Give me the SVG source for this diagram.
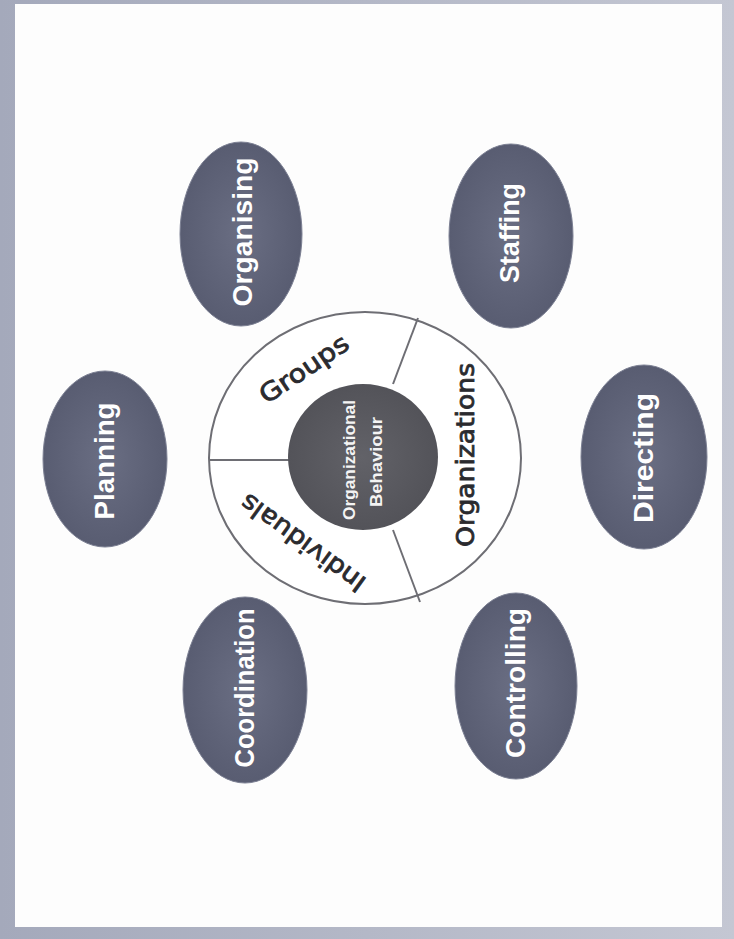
<svg xmlns="http://www.w3.org/2000/svg" width="734" height="939" viewBox="0 0 734 939">
<defs>
<radialGradient id="eg" cx="50%" cy="50%" r="60%">
<stop offset="0" stop-color="#6a6e83"/>
<stop offset="1" stop-color="#55596e"/>
</radialGradient>
<radialGradient id="cg" cx="50%" cy="50%" r="60%">
<stop offset="0" stop-color="#626268"/>
<stop offset="1" stop-color="#505056"/>
</radialGradient>
<linearGradient id="edge" x1="0" y1="0" x2="1" y2="0">
<stop offset="0" stop-color="#a4a9bb"/>
<stop offset="1" stop-color="#c4c7d3"/>
</linearGradient>
</defs>
<style>
.oval{fill:url(#eg);stroke:#7c8093;stroke-width:1}
.lbl{font-family:"Liberation Sans",Arial,sans-serif;font-weight:bold;font-size:28px;fill:#ffffff;text-anchor:middle;dominant-baseline:central}
.ring{font-family:"DejaVu Sans","Liberation Sans",sans-serif;font-size:25px;fill:#2a2a2e;stroke:#2a2a2e;stroke-width:0.8;text-anchor:middle;dominant-baseline:central}
.hubt{font-family:"Liberation Sans",Arial,sans-serif;font-weight:bold;font-size:16px;fill:#f4f4f4;text-anchor:middle;dominant-baseline:central}
.div{stroke:#6e6e74;stroke-width:2;fill:none}
</style>
<rect x="0" y="0" width="734" height="939" fill="url(#edge)"/>
<rect x="15" y="4" width="707" height="923" fill="#fdfdfd"/>

<g id="hub">
<ellipse cx="365" cy="458" rx="156" ry="146" fill="#ffffff" stroke="#6e6e74" stroke-width="2"/>
<line class="div" x1="209" y1="460" x2="290" y2="460"/>
<line class="div" x1="418" y1="318" x2="393" y2="384"/>
<line class="div" x1="393" y1="530" x2="420" y2="602"/>
<ellipse cx="363" cy="457" rx="75" ry="73" fill="url(#cg)"/>
<text class="hubt" transform="translate(349,460) rotate(-90)" textLength="120" lengthAdjust="spacingAndGlyphs">Organizational</text>
<text class="hubt" transform="translate(376,462) rotate(-90)" textLength="90" lengthAdjust="spacingAndGlyphs">Behaviour</text>
</g>
<g id="groups"><text class="ring" transform="translate(304,369) rotate(-34)" textLength="102" lengthAdjust="spacingAndGlyphs">Groups</text></g>
<g id="organizations"><text class="ring" transform="translate(465,455) rotate(-90)" textLength="184" lengthAdjust="spacingAndGlyphs">Organizations</text></g>
<g id="individuals"><text class="ring" transform="translate(303,543) rotate(216)" textLength="148" lengthAdjust="spacingAndGlyphs">Individuals</text></g>

<g id="organising"><ellipse class="oval" cx="241" cy="234" rx="61" ry="92"/><text class="lbl" transform="translate(242,232) rotate(-90)" textLength="149" lengthAdjust="spacingAndGlyphs">Organising</text></g>
<g id="staffing"><ellipse class="oval" cx="511" cy="236" rx="62" ry="92"/><text class="lbl" transform="translate(509,233) rotate(-90)" textLength="100" lengthAdjust="spacingAndGlyphs">Staffing</text></g>
<g id="planning"><ellipse class="oval" cx="105" cy="459" rx="62" ry="88"/><text class="lbl" transform="translate(104,461) rotate(-90)" textLength="117" lengthAdjust="spacingAndGlyphs">Planning</text></g>
<g id="directing"><ellipse class="oval" cx="644" cy="457" rx="63" ry="92"/><text class="lbl" transform="translate(643,458) rotate(-90)" textLength="130" lengthAdjust="spacingAndGlyphs">Directing</text></g>
<g id="coordination"><ellipse class="oval" cx="245" cy="690" rx="62" ry="93"/><text class="lbl" transform="translate(244,688) rotate(-90)" textLength="159" lengthAdjust="spacingAndGlyphs">Coordination</text></g>
<g id="controlling"><ellipse class="oval" cx="516" cy="686" rx="61" ry="93"/><text class="lbl" transform="translate(515,683) rotate(-90)" textLength="150" lengthAdjust="spacingAndGlyphs">Controlling</text></g>
<g id="connectors"></g>
</svg>
